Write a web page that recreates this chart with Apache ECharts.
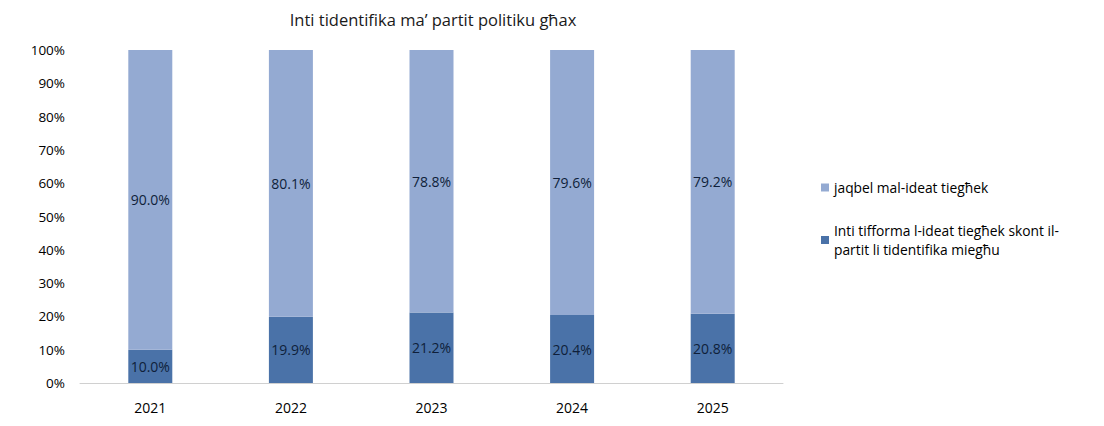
<!DOCTYPE html>
<html>
<head>
<meta charset="utf-8">
<script src="https://cdn.jsdelivr.net/npm/echarts@6/dist/echarts.min.js"></script>
<style>
  html, body { margin: 0; padding: 0; background: #fff; }
  #chart { width: 1104px; height: 426px; }
</style>
</head>
<body>
<div id="chart"></div>
<script>
var years = ['2021', '2022', '2023', '2024', '2025'];
var conformValues = [10.0, 19.9, 21.2, 20.4, 20.8];
var agreeValues = [90.0, 80.1, 78.8, 79.6, 79.2];
var conformName = 'Inti tifforma l-ideat tiegħek skont il-\npartit li tidentifika miegħu';
var agreeName = 'jaqbel mal-ideat tiegħek';

var font = '"Open Sans", sans-serif';
var labelColor = '#0f1f3a';

var chart = echarts.init(document.getElementById('chart'), null, { renderer: 'svg' });
chart.setOption({
  animation: false,
  textStyle: { fontFamily: font },
  title: {
    text: 'Inti tidentifika ma’ partit politiku għax',
    left: 428,
    textAlign: 'center',
    top: 6,
    textStyle: { fontFamily: font, fontSize: 16.5, fontWeight: 'normal', color: '#1a1a1a' }
  },
  legend: {
    orient: 'vertical',
    left: 816,
    top: 173,
    itemWidth: 8,
    itemHeight: 8,
    itemGap: 24,
    icon: 'rect',
    data: [agreeName, conformName],
    textStyle: { fontFamily: font, fontSize: 13.8, color: '#000', lineHeight: 19 }
  },
  grid: { left: 80, right: 321, top: 50, bottom: 43 },
  xAxis: {
    type: 'category',
    data: years,
    axisLine: { lineStyle: { color: '#d0d0d0' } },
    axisTick: { show: false },
    axisLabel: { color: '#000', fontSize: 14, margin: 17, fontFamily: font }
  },
  yAxis: {
    type: 'value',
    min: 0,
    max: 100,
    interval: 10,
    splitLine: { show: false },
    axisLine: { show: false },
    axisTick: { show: false },
    axisLabel: { color: '#000', fontSize: 13.5, margin: 15, formatter: '{value}%', fontFamily: font }
  },
  series: [
    {
      name: conformName,
      type: 'bar',
      stack: 'total',
      barWidth: 44,
      data: conformValues,
      itemStyle: { color: '#4a72a8' },
      label: { show: true, position: 'inside', color: labelColor, fontSize: 14, fontFamily: font,
        formatter: function(p) { return p.value.toFixed(1) + '%'; } }
    },
    {
      name: agreeName,
      type: 'bar',
      stack: 'total',
      barWidth: 44,
      data: agreeValues,
      itemStyle: { color: '#94aad2' },
      label: { show: true, position: 'inside', color: labelColor, fontSize: 14, fontFamily: font,
        formatter: function(p) { return p.value.toFixed(1) + '%'; } }
    }
  ]
});
</script>
</body>
</html>
